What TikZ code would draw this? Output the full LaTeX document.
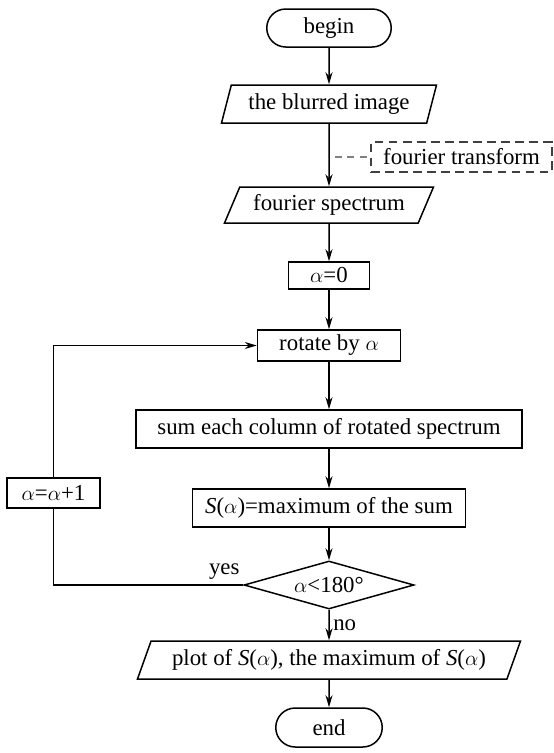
\documentclass[tikz,border=0pt]{standalone}
\usepackage{fontspec}
\setmainfont{Liberation Serif}
\usepackage{tikz}
\usetikzlibrary{shapes.geometric,shapes.misc,arrows.meta}
\pgfdeclarelayer{bg}
\pgfsetlayers{bg,main}

\begin{document}
\begin{tikzpicture}[
        every node/.style={font=\fontsize{13}{15}\selectfont, line width=0.85pt, inner sep=1pt},
        term/.style={draw, rounded rectangle, minimum height=0.76cm},
        io/.style={draw, trapezium, trapezium stretches body, minimum height=0.76cm},
        proc/.style={draw, rectangle},
        test/.style={draw, diamond, aspect=3.5, inner sep=0pt},
        note/.style={draw=black!75, dash pattern=on 5pt off 3pt},
        flow/.style={line width=0.85pt, -{Stealth[length=0.24cm, width=0.14cm]}},
]
        \useasboundingbox (0cm, 0cm) rectangle (11.08cm, -15.06cm);
        \node (begin) [term, minimum width=2.56cm] at (6.58cm, -0.56cm) {begin};
        \node (blurred) [io, trapezium left angle=68, trapezium right angle=112, minimum width=4.30cm] at (6.58cm, -2.08cm) {the blurred image};
        \node (ftrans) [note, minimum width=3.62cm, minimum height=0.60cm] at (9.23cm, -3.14cm) {fourier transform};
        \node (spectrum) [io, trapezium left angle=58, trapezium right angle=122, minimum width=4.18cm, minimum height=0.72cm] at (6.58cm, -4.10cm) {fourier spectrum};
        \node (init) [proc, minimum width=1.62cm, minimum height=0.54cm] at (6.58cm, -5.51cm) {$\alpha$=0};
        \node (rotate) [proc, minimum width=2.86cm, minimum height=0.62cm] at (6.58cm, -6.91cm) {rotate by $\alpha$};
        \node (colsum) [proc, minimum width=7.72cm, minimum height=0.76cm] at (6.58cm, -8.58cm) {sum each column of rotated spectrum};
        \node (smax) [proc, minimum width=5.46cm, minimum height=0.76cm] at (6.58cm, -10.16cm) {\textit{S}($\alpha$)=maximum of the sum};
        \node (cond) [test, minimum width=3.40cm, minimum height=0.96cm] at (6.58cm, -11.70cm) {$\alpha$<180°};
        \node (incr) [proc, minimum width=1.86cm, minimum height=0.60cm] at (1.07cm, -9.86cm) {$\alpha$=$\alpha$+1};
        \node (plot) [io, trapezium left angle=61, trapezium right angle=119, minimum width=7.66cm] at (6.58cm, -13.20cm) {plot of \textit{S}($\alpha$), the maximum of \textit{S}($\alpha$)};
        \node (end) [term, minimum width=2.20cm, minimum height=0.78cm] at (6.58cm, -14.55cm) {end};
        \coordinate (tap) at (6.70cm, -3.14cm);
        \begin{pgfonlayer}{bg}
                \draw (begin) edge [flow] (blurred);
                \draw (blurred) edge [flow] (spectrum);
                \draw (spectrum) edge [flow] (init);
                \draw (init) edge [flow] (rotate);
                \draw (rotate) edge [flow] (colsum);
                \draw (colsum) edge [flow] (smax);
                \draw (smax) edge [flow] (cond);
                \draw (cond) edge [flow] node [right=1pt] (no) {no} (plot);
                \draw (plot) edge [flow] (end);
                \draw [black!50, line width=0.85pt, dash pattern=on 4pt off 3pt] (tap) -- (ftrans);
                \draw [line width=0.85pt] (cond.west) -| node [pos=0.05, above=2pt] (yes) {yes} (incr.south);
                \draw [flow] (incr.north) |- (rotate.west);
        \end{pgfonlayer}
\end{tikzpicture}
\end{document}
